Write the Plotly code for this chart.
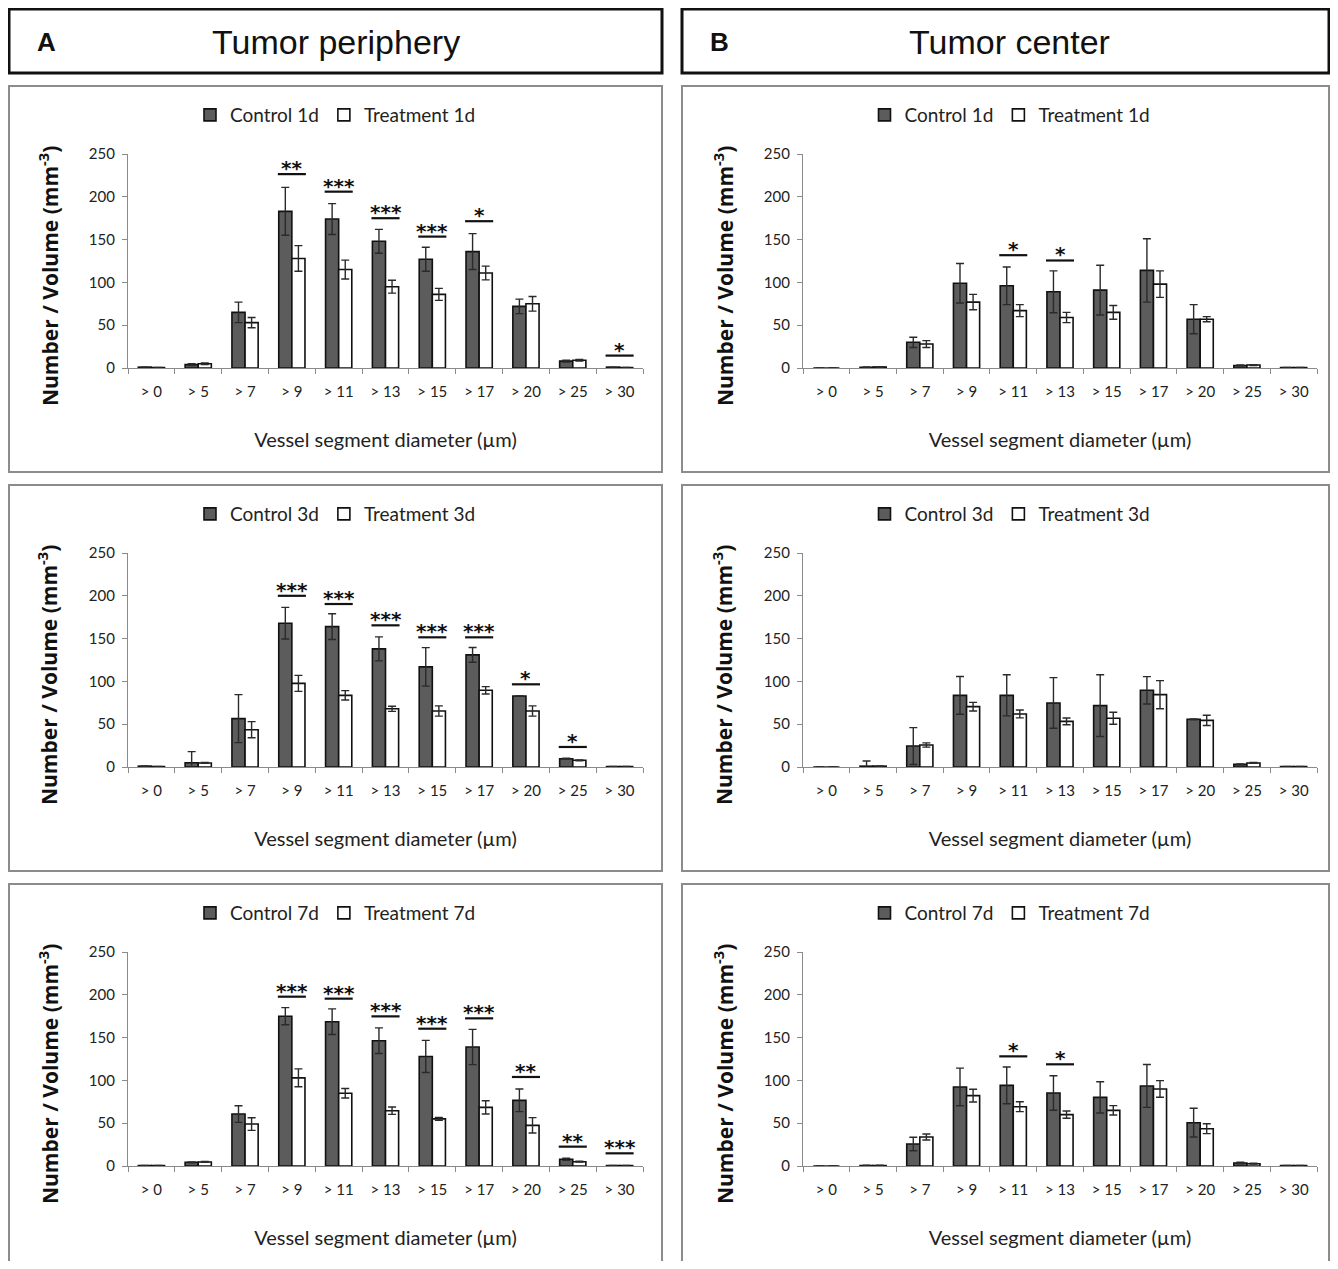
import plotly.graph_objects as go

categories = ["> 0", "> 5", "> 7", "> 9", "> 11", "> 13", "> 15", "> 17", "> 20", "> 25", "> 30"]

# ---- Tumor periphery (A) ----
a1_control = [1, 4, 65, 183, 174, 148, 127, 136, 72, 8, 1]
a1_control_err = [0, 1, 12, 28, 18, 14, 14, 21, 8.5, 1, 0]
a1_treat = [0.5, 5, 53, 128, 115, 95, 86, 111, 75, 9, 0.5]
a1_treat_err = [0, 1, 6, 15, 11, 7.5, 7, 8, 8.5, 1, 0]
a1_sig = ["", "", "", "**", "***", "***", "***", "*", "", "", "*"]
a1_sig_y = [None, None, None, 226.5, 206, 175, 153.5, 171.5, None, None, 14.5]

a2_control = [1, 5, 56.5, 168, 164, 138, 117, 131, 83, 9.7, 0.5]
a2_control_err = [0.3, 13, 28, 18.5, 15, 14, 22.5, 8.6, 0, 0.5, 0]
a2_treat = [0.5, 4.7, 43.6, 97.7, 83.7, 68, 65.4, 89.6, 65.4, 7.8, 0.5]
a2_treat_err = [0, 0.5, 9.4, 9.3, 5.5, 3, 6, 4.3, 6, 0.5, 0]
a2_sig = ["", "", "", "***", "***", "***", "***", "***", "*", "*", ""]
a2_sig_y = [None, None, None, 200, 190.4, 165.5, 151.5, 151.5, 96.6, 23.4, None]

a3_control = [0.5, 4.3, 60.7, 175, 168.6, 146.4, 128, 139, 76.7, 7.8, 0.5]
a3_control_err = [0, 0.5, 9.7, 10, 15, 15, 18.7, 20.6, 13.2, 1.2, 0]
a3_treat = [0.5, 4.7, 49, 103, 85, 64.6, 55, 68.5, 47.5, 5, 0.5]
a3_treat_err = [0, 0.5, 7.4, 10.5, 5.5, 4.3, 1.6, 7.8, 9, 0.5, 0]
a3_sig = ["", "", "", "***", "***", "***", "***", "***", "**", "**", "***"]
a3_sig_y = [None, None, None, 197.8, 195.5, 174.8, 160.4, 172.5, 104, 22.6, 14.8]

# ---- Tumor center (B) ----
b1_control = [0, 0.8, 30, 99, 96, 89, 91, 114, 57, 3, 0.5]
b1_control_err = [0, 0.3, 6, 23, 22, 24.5, 29, 37, 17, 0.5, 0]
b1_treat = [0, 1.2, 28, 77, 67, 59, 65, 98, 57, 3.5, 0.5]
b1_treat_err = [0, 0.3, 4, 9, 7, 6, 8, 15.5, 3, 0.5, 0]
b1_sig = ["", "", "", "", "*", "*", "", "", "", "", ""]
b1_sig_y = [None, None, None, None, 131.8, 125.6, None, None, None, None, None]

b2_control = [0, 1, 24.5, 83.7, 83.7, 74.8, 71.7, 89.6, 55.7, 3.1, 0.5]
b2_control_err = [0, 6, 21.5, 22, 24, 29.6, 36, 16, 0.5, 0.5, 0]
b2_treat = [0, 1, 25.7, 70.5, 62, 53.3, 56.9, 84.5, 54.5, 4.7, 0.5]
b2_treat_err = [0, 0.3, 2.5, 5, 4.6, 4, 7, 16.4, 6, 0.5, 0]
b2_sig = ["", "", "", "", "", "", "", "", "", "", ""]
b2_sig_y = [None] * 11

b3_control = [0, 0.5, 25.7, 92.3, 94.2, 85.3, 80.2, 93.5, 50.6, 3.5, 0.5]
b3_control_err = [0, 0.5, 7.8, 22, 21.4, 20.2, 18.3, 25, 16.8, 0.8, 0]
b3_treat = [0, 0.5, 33.9, 82.2, 69.3, 60, 65, 90, 43.6, 2.7, 0.5]
b3_treat_err = [0, 0.3, 3.5, 7.4, 5.8, 4.3, 5.5, 9.7, 5.8, 0.5, 0]
b3_sig = ["", "", "", "", "*", "*", "", "", "", "", ""]
b3_sig_y = [None, None, None, None, 128.1, 118.8, None, None, None, None, None]

days = ["1d", "3d", "7d"]
y_ticks = [0, 50, 100, 150, 200, 250]
header_titles = {"A": "Tumor periphery", "B": "Tumor center"}
x_title = "Vessel segment diameter (µm)"
y_title = "<b>Number / Volume (mm<sup>-3</sup>)</b>"

# The page body keeps its default 8px margin, so the figure is sized to fit the window.
PAGE_OFF = 8
W, H = 1338 - 2 * PAGE_OFF, 1269 - 2 * PAGE_OFF
FONT = "Lato, Open Sans, sans-serif"
CTRL_COLOR = "#5c5c5c"


def px(x):
    return (x - PAGE_OFF) / W


def py(y):
    return 1 - (y - PAGE_OFF) / H


panels = [
    ("A", 0, a1_control, a1_control_err, a1_treat, a1_treat_err, a1_sig, a1_sig_y),
    ("A", 1, a2_control, a2_control_err, a2_treat, a2_treat_err, a2_sig, a2_sig_y),
    ("A", 2, a3_control, a3_control_err, a3_treat, a3_treat_err, a3_sig, a3_sig_y),
    ("B", 0, b1_control, b1_control_err, b1_treat, b1_treat_err, b1_sig, b1_sig_y),
    ("B", 1, b2_control, b2_control_err, b2_treat, b2_treat_err, b2_sig, b2_sig_y),
    ("B", 2, b3_control, b3_control_err, b3_treat, b3_treat_err, b3_sig, b3_sig_y),
]

col_axis_x = {"A": (128, 643), "B": (803, 1317)}
col_box_x = {"A": (9, 662), "B": (682, 1329)}
col_legend_x = {"A": 335.5, "B": 1010}
col_header_x = {"A": 336, "B": 1009}
col_ytitle_x = {"A": 48, "B": 723}
row_axis_y = [(154, 368), (553, 767), (952, 1166)]
row_box_y = [(86, 472), (485, 871), (884, 1290)]
row_ytitle_y = [276, 675, 1074]
legend_y = [115, 514, 913]

fig = go.Figure()
layout = dict(
    width=W, height=H,
    margin=dict(l=0, r=0, t=0, b=0, autoexpand=False),
    paper_bgcolor="white", plot_bgcolor="white",
    barmode="group", bargap=0.44, bargroupgap=0.0,
    font=dict(family=FONT, color="#222222"),
    showlegend=True,
)
shapes = []
annotations = []

for k, (col, row, ctrl, ctrl_err, trt, trt_err, sig, sig_y) in enumerate(panels):
    n = k + 1
    xa = "x" if n == 1 else f"x{n}"
    ya = "y" if n == 1 else f"y{n}"
    lg = "legend" if n == 1 else f"legend{n}"
    day = days[row]
    fig.add_trace(go.Bar(
        x=categories, y=ctrl, name=f"Control {day}", xaxis=xa, yaxis=ya, legend=lg,
        marker=dict(color=CTRL_COLOR, line=dict(color="#111111", width=1.6)),
        error_y=dict(type="data", array=ctrl_err, visible=True, color="#2a2a2a", thickness=1.4, width=4),
    ))
    fig.add_trace(go.Bar(
        x=categories, y=trt, name=f"Treatment {day}", xaxis=xa, yaxis=ya, legend=lg,
        marker=dict(color="white", line=dict(color="#111111", width=1.6)),
        error_y=dict(type="data", array=trt_err, visible=True, color="#2a2a2a", thickness=1.4, width=4),
    ))
    x0, x1 = col_axis_x[col]
    yt, yb = row_axis_y[row]
    layout["xaxis" if n == 1 else f"xaxis{n}"] = dict(
        domain=[px(x0), px(x1)], anchor=ya, type="category",
        showline=True, linecolor="#8a8a8a", linewidth=1.3,
        ticks="outside", tickson="boundaries", ticklen=5, tickcolor="#8a8a8a",
        tickfont=dict(size=15, family=FONT, color="#222222"), ticklabelstandoff=10,
        showgrid=False, zeroline=False, fixedrange=True,
        title=dict(text=x_title, font=dict(size=20, family=FONT, color="#222222"), standoff=33),
    )
    layout["yaxis" if n == 1 else f"yaxis{n}"] = dict(
        domain=[py(yb), py(yt)], anchor=xa, range=[0, 250],
        tickvals=y_ticks, showline=True, linecolor="#8a8a8a", linewidth=1.3,
        ticks="outside", ticklen=5, tickcolor="#8a8a8a",
        tickfont=dict(size=15, family=FONT, color="#222222"), ticklabelstandoff=4,
        showgrid=False, zeroline=False, fixedrange=True,
    )
    # y-axis title (placed as in the reference, slightly below the plot-area centre)
    annotations.append(dict(xref="paper", yref="paper", x=px(col_ytitle_x[col]), y=py(row_ytitle_y[row]),
                            xanchor="center", yanchor="middle", textangle=-90, text=y_title, showarrow=False,
                            font=dict(size=21, family="Open Sans, Noto Sans, sans-serif", color="#111111")))
    bx0, bx1 = col_box_x[col]
    by0, by1 = row_box_y[row]
    layout[lg] = dict(
        x=px(col_legend_x[col]), y=py(legend_y[row]), xanchor="center", yanchor="middle",
        orientation="h", font=dict(size=19, family=FONT, color="#222222"),
        itemwidth=30, bgcolor="rgba(0,0,0,0)", tracegroupgap=0,
    )
    # panel frame
    shapes.append(dict(type="rect", xref="paper", yref="paper",
                       x0=px(bx0), x1=px(bx1), y0=py(by1), y1=py(by0),
                       line=dict(color="#8c8c8c", width=2), layer="below"))
    # significance bars
    for i, (s, sy) in enumerate(zip(sig, sig_y)):
        if not s:
            continue
        shapes.append(dict(type="line", xref=xa, yref=ya, x0=i - 0.3, x1=i + 0.3, y0=sy, y1=sy,
                           line=dict(color="#111111", width=2.2)))
        annotations.append(dict(xref=xa, yref=ya, x=i, y=sy, text=f"<b>{s}</b>", showarrow=False,
                                yanchor="bottom", yshift=-8,
                                font=dict(size=20, family="DejaVu Sans", color="#111111")))

# headers
for col in ["A", "B"]:
    bx0, bx1 = col_box_x[col]
    shapes.append(dict(type="rect", xref="paper", yref="paper",
                       x0=px(bx0), x1=px(bx1), y0=py(73), y1=py(9),
                       line=dict(color="#111111", width=3)))
    annotations.append(dict(xref="paper", yref="paper", x=px(bx0 + 26), y=py(42), xanchor="left",
                            yanchor="middle", text=f"<b>{col}</b>", showarrow=False,
                            font=dict(size=26, family="Liberation Sans, Arial", color="#111111")))
    annotations.append(dict(xref="paper", yref="paper", x=px(col_header_x[col]), y=py(42),
                            xanchor="center", yanchor="middle", text=header_titles[col], showarrow=False,
                            font=dict(size=34, family="Liberation Sans, Arial", color="#111111")))

layout["shapes"] = shapes
layout["annotations"] = annotations
fig.update_layout(**layout)
fig.write_html("out.html")
